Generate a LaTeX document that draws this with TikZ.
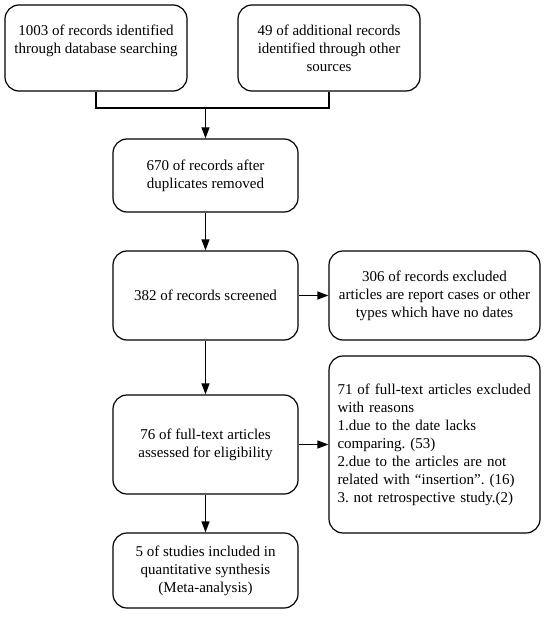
\documentclass[tikz,border=0pt]{standalone}
\usepackage{fontspec}
\setmainfont{Liberation Serif}
\usetikzlibrary{arrows.meta}
\frenchspacing
\begin{document}
\begin{tikzpicture}[x=1bp,y=-1bp,
  box/.style={draw, rounded corners=14bp, line width=1.2bp, align=center, inner sep=0pt,
    font=\fontsize{15bp}{18bp}\selectfont},
  arr/.style={-{Triangle[length=11bp,width=8bp]}, line width=1.2bp},
  ln/.style={line width=1.2bp}]
\useasboundingbox (0,0) rectangle (544,622);
\node[box, minimum width=182bp, minimum height=86bp] (b1) at (96,48)
  {1003 of records identified\\through database searching\\\mbox{}};
\node[box, minimum width=182bp, minimum height=86bp] (b2) at (329,48)
  {49 of additional records\\identified through other\\sources};
\node[box, minimum width=185bp, minimum height=73bp] (b3) at (205.5,175.5)
  {670 of records after\\duplicates removed};
\node[box, minimum width=185bp, minimum height=89bp] (b4) at (205.5,295.5)
  {382 of records screened};
\node[box, minimum width=211bp, minimum height=89bp] (b5) at (434.5,295.5)
  {306 of records excluded\\articles are report cases or other\\types which have no dates};
\node[box, minimum width=185bp, minimum height=99bp] (b6) at (205.5,444.5)
  {76 of full-text articles\\assessed for eligibility};
\node[box, minimum width=211bp, minimum height=177bp, text width=194bp, align=left] (b7) at (434.5,444.5)
  {71 of full-text articles excluded\\with reasons\\1.due to the date lacks\\comparing. (53)\\2.due to the articles are not\\related with “insertion”. (16)\\3. not retrospective study.(2)};
\node[box, minimum width=185bp, minimum height=75bp] (b8) at (205.5,570.5)
  {5 of studies included in\\quantitative synthesis\\(Meta-analysis)};
\coordinate (m) at (205.5,108);
\draw[ln] (b1.south) |- (m);
\draw[ln] (b2.south) |- (m);
\draw[arr] (m) -- (b3.north);
\draw[arr] (b3) -- (b4);
\draw[arr] (b4) -- (b5);
\draw[arr] (b4) -- (b6);
\draw[arr] (b6) -- (b7);
\draw[arr] (b6) -- (b8);
\end{tikzpicture}
\end{document}
